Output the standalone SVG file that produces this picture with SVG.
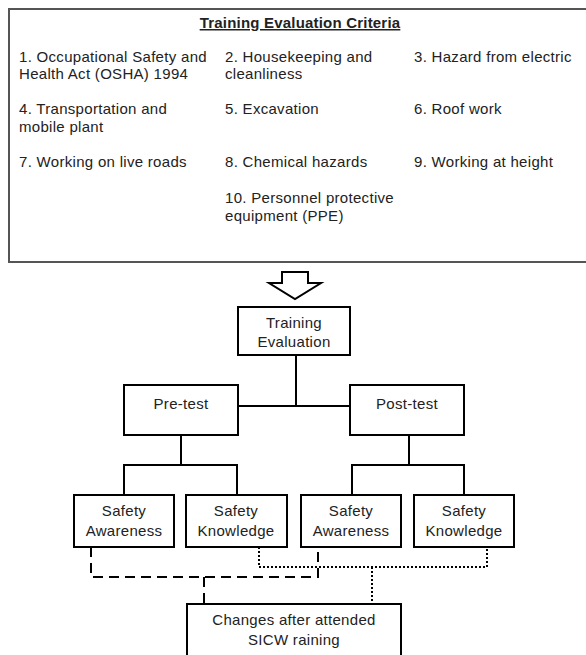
<svg xmlns="http://www.w3.org/2000/svg" width="586" height="655" viewBox="0 0 586 655">
<style>
text{font-family:"Liberation Sans",Arial,sans-serif;font-size:15px;letter-spacing:0.3px;fill:#222}
.c{text-anchor:middle}
.box{fill:#fff;stroke:#000;stroke-width:2}
.ln{fill:none;stroke:#000;stroke-width:2}
.dash{fill:none;stroke:#000;stroke-width:2;stroke-dasharray:10,6}
.dot{fill:none;stroke:#000;stroke-width:2;stroke-dasharray:2,2}
</style>
<rect width="586" height="655" fill="#fff"/>
<g id="criteria">
<rect x="9" y="9" width="590" height="253" fill="#fff" stroke="#555" stroke-width="2"/>
<text x="300" y="28" class="c" style="font-weight:bold;text-decoration:underline;letter-spacing:0.2px">Training Evaluation Criteria</text>
<text x="19" y="62">1. Occupational Safety and</text>
<text x="19" y="79">Health Act (OSHA) 1994</text>
<text x="225" y="62">2. Housekeeping and</text>
<text x="225" y="79">cleanliness</text>
<text x="414" y="62">3. Hazard from electric</text>
<text x="19" y="114">4. Transportation and</text>
<text x="19" y="132">mobile plant</text>
<text x="225" y="114">5. Excavation</text>
<text x="414" y="114">6. Roof work</text>
<text x="19" y="167">7. Working on live roads</text>
<text x="225" y="167">8. Chemical hazards</text>
<text x="414" y="167">9. Working at height</text>
<text x="225" y="203">10. Personnel protective</text>
<text x="225" y="221">equipment (PPE)</text>
</g>
<g id="arrow">
<polygon points="282,272 308,272 308,283 321,283 295,299 269,283 282,283" fill="#fff" stroke="#000" stroke-width="2"/>
</g>
<g id="connectors">
<polyline class="ln" points="296,355 296,406"/>
<polyline class="ln" points="238,406 350,406"/>
<polyline class="ln" points="181,435 181,465"/>
<polyline class="ln" points="124,495 124,465 237,465 237,495"/>
<polyline class="ln" points="409,435 409,465"/>
<polyline class="ln" points="352,495 352,465 464,465 464,495"/>
<polyline class="dash" points="91,547 91,577 318,577 318,547"/>
<polyline class="dash" points="204,577 204,604"/>
<polyline class="dot" points="259,547 259,567 487,567 487,547"/>
<polyline class="dot" points="372,567 372,604"/>
</g>
<g id="training-evaluation">
<rect class="box" x="238" y="307" width="112" height="48"/>
<text x="294" y="328" class="c">Training</text>
<text x="294" y="347" class="c">Evaluation</text>
</g>
<g id="pre-test">
<rect class="box" x="124" y="385" width="114" height="50"/>
<text x="181" y="409" class="c">Pre-test</text>
</g>
<g id="post-test">
<rect class="box" x="350" y="385" width="114" height="50"/>
<text x="407" y="409" class="c">Post-test</text>
</g>
<g id="pre-awareness">
<rect class="box" x="74" y="495" width="100" height="52"/>
<text x="124" y="516" class="c">Safety</text>
<text x="124" y="536" class="c">Awareness</text>
</g>
<g id="pre-knowledge">
<rect class="box" x="186" y="495" width="101" height="52"/>
<text x="236" y="516" class="c">Safety</text>
<text x="236" y="536" class="c">Knowledge</text>
</g>
<g id="post-awareness">
<rect class="box" x="301" y="495" width="100" height="52"/>
<text x="351" y="516" class="c">Safety</text>
<text x="351" y="536" class="c">Awareness</text>
</g>
<g id="post-knowledge">
<rect class="box" x="414" y="495" width="100" height="52"/>
<text x="464" y="516" class="c">Safety</text>
<text x="464" y="536" class="c">Knowledge</text>
</g>
<g id="changes">
<rect class="box" x="187" y="604" width="214" height="60"/>
<text x="294" y="625" class="c">Changes after attended</text>
<text x="294" y="645" class="c">SICW raining</text>
</g>
</svg>
